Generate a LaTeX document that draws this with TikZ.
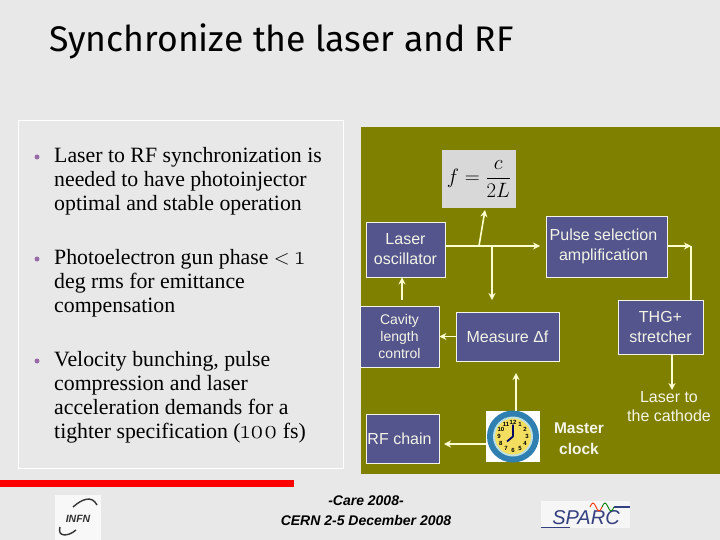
\documentclass[tikz,border=0pt]{standalone}
\usepackage{amsmath}
\usepackage{fontspec}
\setmainfont{Liberation Serif}
\setsansfont{Liberation Sans}
\newfontfamily\titlefont{Fira Sans}
\newfontfamily\oldnum[Numbers=OldStyle,Scale=1.2]{Latin Modern Roman}
\usetikzlibrary{arrows.meta,calc}
\definecolor{page}{HTML}{E8E8E8}
\definecolor{panel}{HTML}{808000}
\definecolor{boxblue}{HTML}{53558C}
\definecolor{wire}{HTML}{FFFFD0}
\definecolor{soft}{HTML}{F4F4E8}
\definecolor{dot}{HTML}{9A6AA8}
\definecolor{rim}{HTML}{2F7FB0}
\definecolor{rimlight}{HTML}{BFE0E0}
\definecolor{face}{HTML}{F4DE60}
\definecolor{sparc}{HTML}{34407F}
\tikzset{
  box/.style={draw=soft,line width=.8pt,fill=boxblue,inner sep=0pt,align=center,text=soft,font=\sffamily\fontsize{16}{20}\selectfont},
  plain/.style={align=center,text=soft,font=\sffamily\fontsize{16}{19}\selectfont},
  bold/.style={plain,font=\sffamily\bfseries\fontsize{15.5}{21}\selectfont},
  bullet/.style={align=left,anchor=west,inner sep=0pt,text=black,font=\fontsize{21.8}{24}\selectfont},
  dotmark/.style={circle,fill=dot,minimum size=5pt,inner sep=0pt},
  foot/.style={align=center,inner sep=0pt,text=black,font=\sffamily\bfseries\itshape\fontsize{14}{20.5}\selectfont},
  ar/.style={-{Stealth[length=7pt,width=7pt]},draw=wire,line width=1.6pt},
  ln/.style={draw=wire,line width=1.6pt},
  clknum/.style={inner sep=0pt,text=black,font=\sffamily\bfseries\fontsize{6}{6}\selectfont},
}
\begin{document}
\begin{tikzpicture}[x=1pt,y=-1pt]
  \useasboundingbox (0,0) rectangle (720,540);
  \fill[page] (0,0) rectangle (720,540);
  \node[anchor=west,inner sep=0pt,font=\titlefont\fontsize{35.6}{40}\selectfont] (title) at (49,41) {Synchronize the laser and RF};
  % left text
  \draw[draw=white,line width=.8pt] (18,120) rectangle (343,468);
  \node[bullet] (t1) at (54,181) {Laser to RF synchronization is\\needed to have photoinjector\\optimal and stable operation};
  \node[bullet] (t2) at (54,283) {Photoelectron gun phase $<$ {\oldnum 1}\\deg rms for emittance\\compensation};
  \node[bullet] (t3) at (54,397) {Velocity bunching, pulse\\compression and laser\\acceleration demands for a\\tighter specification ({\oldnum 100} fs)};
  \foreach \y in {157,259,361} { \node[dotmark] (d\y) at (37,\y) {}; }
  % panel
  \fill[panel] (361,127) rectangle (720,474);
  \fill[red] (0,480) rectangle (294,487);
  \node[fill=page!93!black,minimum width=74pt,minimum height=58pt,inner sep=0pt,font=\fontsize{20}{24}\selectfont] (form) at (479,179) {$f=\dfrac{c}{2L}$};
  \node[box,minimum width=79pt,minimum height=55pt] (laser) at (405.5,249.5) {Laser\\oscillator};
  \node[box,minimum width=121pt,minimum height=61pt] (pulse) at (606.5,246.5) {Pulse selection\hspace*{6pt}\\amplification\hspace*{6pt}};
  \node[box,minimum width=79pt,minimum height=61pt,font=\sffamily\fontsize{14}{17}\selectfont] (cavity) at (399.5,336.5) {Cavity\\length\\control};
  \node[box,minimum width=103pt,minimum height=49pt] (meas) at (507.5,336.5) {Measure Δf};
  \node[box,minimum width=85pt,minimum height=54pt] (thg) at (660.5,327) {THG+\\stretcher};
  \node[box,minimum width=73pt,minimum height=49pt] (rf) at (402.5,438.5) {RF chain\hspace*{6pt}};
  \node[fill=white,minimum width=54pt,minimum height=51pt,inner sep=0pt] (clk) at (513,436.5) {};
  \node[plain] (cath) at (669,407) {Laser to\\the cathode};
  \node[bold] (master) at (579,439) {Master\\clock};
  % clock
  \fill[rim] (clk.center) circle (26);
  \fill[rimlight] (clk.center) circle (20);
  \fill[face] (clk.center) circle (18);
  \foreach \h in {1,...,12} { \node[clknum] (n\h) at ($(clk.center)+(\h*30-90:14)$) {\h}; }
  \draw[black!60!blue,line width=1.8pt] (clk.center) -- ++(0,-12) (clk.center) -- ++(-6,5);
  % connectors
  \coordinate (j1) at (479,246);
  \coordinate (j2) at (492,246);
  \coordinate (pend) at (540,246);
  \coordinate (corner) at (691,246);
  \coordinate (cvtop) at (402,300);
  \coordinate (cktop) at (516,411);
  \coordinate (ckleft) at (486,444);
  \coordinate (thgfoot) at (672,354);
  \draw[ln] (j2 -| laser.east) -- (j2);
  \draw[ar] (j2) -- (pend);
  \draw[ar] (j1) -- (485,210);
  \draw[ar] (j2) -- (492,300);
  \draw[ar] (cvtop) -- (cvtop |- laser.south);
  \draw[ar] (corner -| pulse.east) -- (corner);
  \draw[ln] (corner) -- (thg.north -| corner);
  \draw[ar] (meas.west) -- (cavity.east);
  \draw[ar] (cktop) -- (516,373);
  \draw[ar] (ckleft) -- (444,444);
  \draw[ar] (thgfoot) -- (672,390);
  % footer
  \node[foot] (care) at (366,510.5) {-Care 2008-\\CERN 2-5 December 2008};
  \node[fill=page!30!white,minimum width=46pt,minimum height=45pt,inner sep=0pt] (infn) at (78,517.5) {};
  \node[inner sep=0pt,font=\sffamily\bfseries\itshape\fontsize{10.5}{10}\selectfont,text=black!80] (infnt) at (78,519) {INFN};
  \draw[black!80,line width=1.4pt] (73,507) .. controls (82,499) and (92,495) .. (97,505);
  \draw[black!80,line width=1.4pt] (60,527) .. controls (57,537) and (68,537) .. (76,530);
  \node[fill=page!40!white,minimum width=89pt,minimum height=27pt,inner sep=0pt] (logo) at (585.5,514.5) {};
  \node[inner sep=0pt,font=\sffamily\itshape\fontsize{20}{20}\selectfont,text=sparc] (sparct) at (586,518) {SPARC};
  \draw[sparc,line width=1pt] (541,527) -- (570,527);
  \draw[red!60!orange,line width=.9pt] (590,507) sin (593,503) cos (596,507) sin (599,511) cos (602,507);
  \draw[green!50!black,line width=.9pt] (602,507) sin (605,503) cos (608,507) sin (611,511) cos (614,507);
  \draw[sparc,line width=1.2pt] (614,507) -- (630,507);
\end{tikzpicture}
\end{document}
